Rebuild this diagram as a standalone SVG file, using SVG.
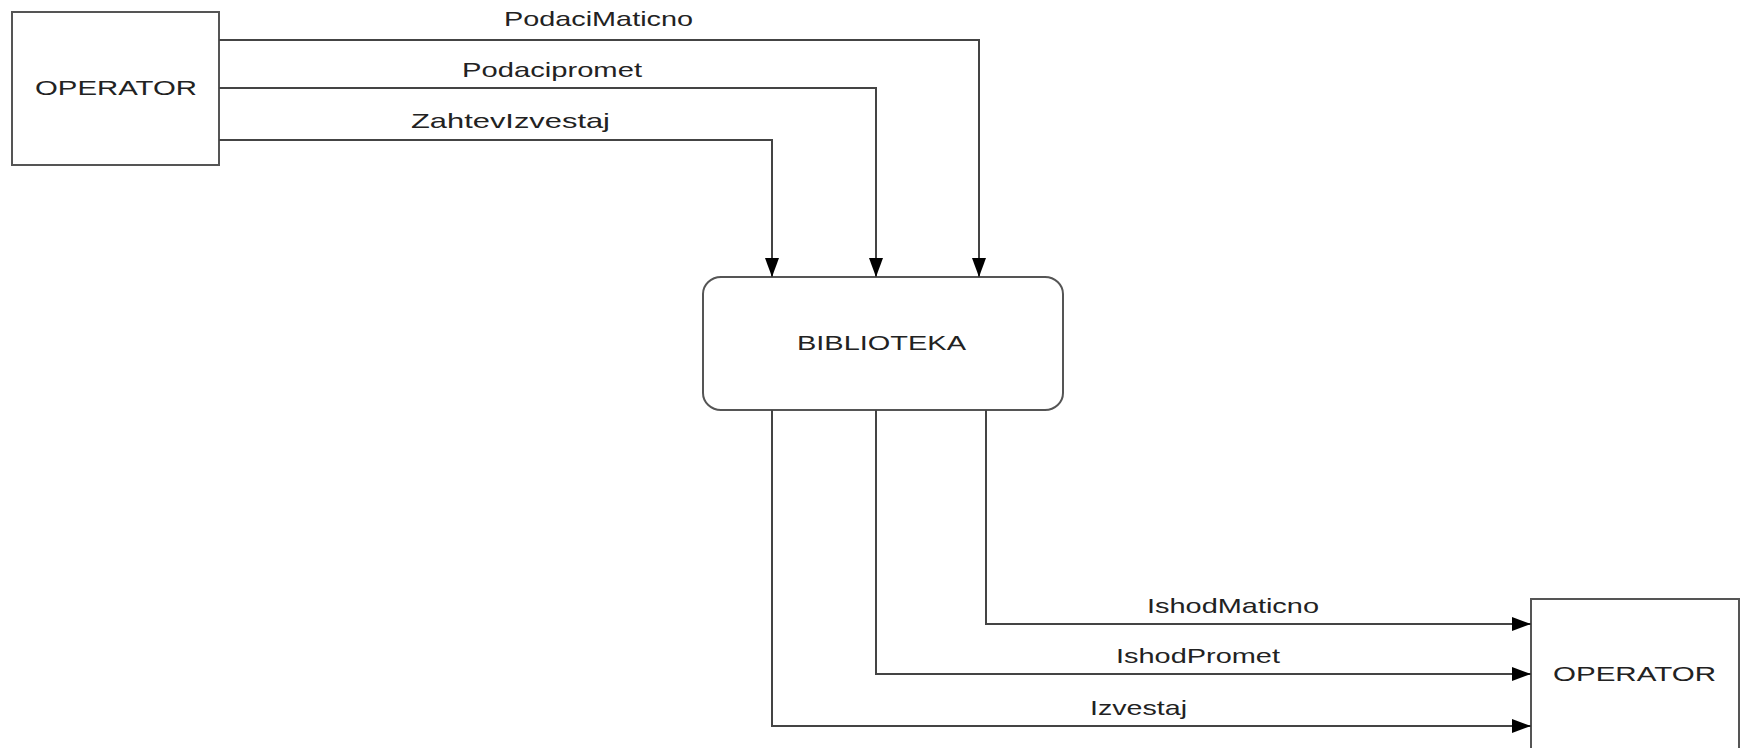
<svg xmlns="http://www.w3.org/2000/svg" width="1743" height="748" viewBox="0 0 1743 748">
<style>
.box{fill:#fff;stroke:#555;stroke-width:2}
.ln{fill:none;stroke:#444;stroke-width:2}
.t{font-family:"Liberation Sans",Arial,sans-serif;font-size:21px;fill:#222}
</style>
<defs>
<marker id="ah" markerUnits="userSpaceOnUse" markerWidth="19" markerHeight="14" refX="19" refY="7" orient="auto">
<path d="M0,0 L19,7 L0,14 z" fill="#000"/>
</marker>
</defs>
<rect width="1743" height="748" fill="#fff"/>
<g id="operator-left">
<rect class="box" x="12" y="12" width="207" height="153"/>
<text class="t" x="35" y="95" textLength="162" lengthAdjust="spacingAndGlyphs">OPERATOR</text>
</g>
<g id="biblioteka">
<rect class="box" x="703" y="277" width="360" height="133" rx="18" ry="17"/>
<text class="t" x="797" y="350" textLength="169" lengthAdjust="spacingAndGlyphs">BIBLIOTEKA</text>
</g>
<g id="operator-right">
<rect class="box" x="1531" y="599" width="208" height="170"/>
<text class="t" x="1553" y="681" textLength="163" lengthAdjust="spacingAndGlyphs">OPERATOR</text>
</g>
<g id="connectors">
<polyline class="ln" points="219,40 979,40 979,277" marker-end="url(#ah)"/>
<polyline class="ln" points="219,88 876,88 876,277" marker-end="url(#ah)"/>
<polyline class="ln" points="219,140 772,140 772,277" marker-end="url(#ah)"/>
<polyline class="ln" points="986,410 986,624 1531,624" marker-end="url(#ah)"/>
<polyline class="ln" points="876,410 876,674 1531,674" marker-end="url(#ah)"/>
<polyline class="ln" points="772,410 772,726 1531,726" marker-end="url(#ah)"/>
<text class="t" x="504" y="26" textLength="189" lengthAdjust="spacingAndGlyphs">PodaciMaticno</text>
<text class="t" x="462" y="77" textLength="180" lengthAdjust="spacingAndGlyphs">Podacipromet</text>
<text class="t" x="411" y="128" textLength="199" lengthAdjust="spacingAndGlyphs">ZahtevIzvestaj</text>
<text class="t" x="1147" y="613" textLength="172" lengthAdjust="spacingAndGlyphs">IshodMaticno</text>
<text class="t" x="1116" y="663" textLength="164" lengthAdjust="spacingAndGlyphs">IshodPromet</text>
<text class="t" x="1090" y="715" textLength="97" lengthAdjust="spacingAndGlyphs">Izvestaj</text>
</g>
</svg>
